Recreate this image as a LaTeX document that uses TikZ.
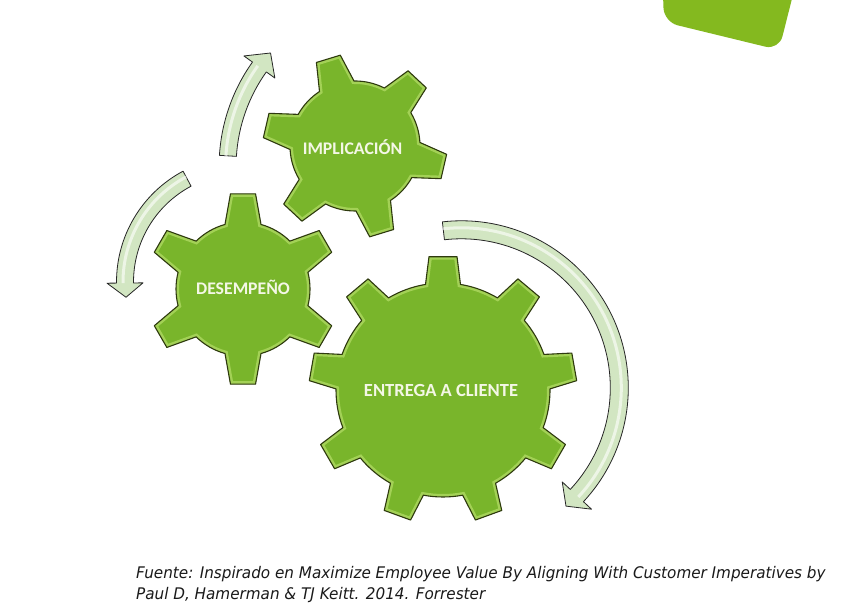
\documentclass[tikz,border=0pt]{standalone}
\usepackage{fontspec}
\newfontfamily\labfont{Carlito}
\newfontfamily\capfont{DejaVu Sans}[FakeStretch=0.95]
\definecolor{gearg}{HTML}{79B52B}
\definecolor{gearbev}{HTML}{A3D156}
\definecolor{gearedge}{HTML}{2E3A0E}
\definecolor{arrowg}{HTML}{D2E6C2}
\definecolor{cornerg}{HTML}{84B91F}
\definecolor{labc}{HTML}{F4F7E6}
\definecolor{capc}{HTML}{1A1A1A}
\tikzset{
  gearbody/.style={fill=gearg},
  gearbevel/.style={draw=gearbev, line width=6pt, line join=miter},
  gearline/.style={draw=gearedge, line width=1.1pt, line join=round},
  arrowsty/.style={fill=arrowg, draw=black!85, line width=0.8pt, line join=round},
  arrowhl/.style={draw=white, line width=3pt, opacity=0.6},
  gearlabel/.style={text=labc, inner sep=0pt, anchor=base},
  captext/.style={anchor=base west, inner sep=0pt, text=capc, font=\capfont\itshape\fontsize{16}{20}\selectfont},
}
% gear outline: 1 ri, 2 ro, 3 base half-angle, 4 tip half-angle, 5 first angle, 6 spacing, 7 last index
\newcommand{\gearpath}[7]{({#5-#3}:#1) \foreach \k [evaluate=\k as \a using {#5+\k*#6}] in {0,...,#7} { -- ({\a-#3}:#1) -- ({\a-#4}:#2) -- ({\a+#4}:#2) -- ({\a+#3}:#1) arc[start angle={\a+#3}, delta angle={#6-2*#3}, radius=#1] } -- cycle}
\newcommand{\drawgear}[9]{%
\begin{scope}[shift={(#1,#2)}]
\path[gearbody] \gearpath{#3}{#4}{#5}{#6}{#7}{#8}{#9};
\begin{scope}
\clip \gearpath{#3}{#4}{#5}{#6}{#7}{#8}{#9};
\path[gearbevel] \gearpath{#3}{#4}{#5}{#6}{#7}{#8}{#9};
\end{scope}
\path[gearline] \gearpath{#3}{#4}{#5}{#6}{#7}{#8}{#9};
\end{scope}}
% curved arrow: 1 cx, 2 cy, 3 r, 4 half width, 5 tail angle, 6 head base angle, 7 tip angle, 8 head half width
\newcommand{\bendarrow}[8]{%
\begin{scope}[shift={(#1,#2)}]
\path[arrowsty] ({#5}:{#3+#4}) arc[start angle=#5, end angle=#6, radius={#3+#4}] -- ({#6}:{#3+#8}) -- ({#7}:{#3}) -- ({#6}:{#3-#8}) -- ({#6}:{#3-#4}) arc[start angle=#6, end angle=#5, radius={#3-#4}] -- cycle;
\path[arrowhl] ({#5}:{#3+2}) arc[start angle=#5, end angle=#6, radius={#3+2}];
\end{scope}}
\begin{document}
\begin{tikzpicture}[x=1pt,y=1pt]
\useasboundingbox (0,0) rectangle (850,607);
\fill[white] (0,0) rectangle (850,607);
% corner decoration
\begin{scope}
\clip (0,0) rectangle (850,607);
\fill[cornerg, rounded corners=14pt] (662,640) -- (664,585) -- (779,557) -- (800,640) -- cycle;
\end{scope}
% arrows
\bendarrow{242}{325}{117}{8.5}{118}{180.5}{187.5}{18}
\bendarrow{398.6}{440.7}{171}{8.5}{176.5}{144.5}{138.5}{19}
\bendarrow{461.3}{219.2}{158}{9}{96.5}{-43}{-48.5}{20}
% gears
\drawgear{443}{217}{107}{134}{9.41}{6.0}{90}{40}{8}
\drawgear{243}{318}{67}{96}{15.6}{7.5}{90}{60}{5}
\drawgear{355}{461}{65}{92}{16.1}{7.8}{-133}{60}{5}
% labels
\node[gearlabel, font=\labfont\bfseries\fontsize{17.7}{20}\selectfont] (des) at (243,312) {DESEMPEÑO};
\node[gearlabel, font=\labfont\bfseries\fontsize{17.7}{20}\selectfont] (imp) at (352.5,452) {IMPLICACIÓN};
\node[gearlabel, font=\labfont\bfseries\fontsize{18.5}{20}\selectfont] (ent) at (441,210) {ENTREGA A CLIENTE};
% caption
\node[captext] (cap1) at (136,29) {Fuente: Inspirado en Maximize Employee Value By Aligning With Customer Imperatives by};
\node[captext] (cap2) at (136,8) {Paul D, Hamerman \& TJ Keitt. 2014. Forrester};
\end{tikzpicture}
\end{document}
